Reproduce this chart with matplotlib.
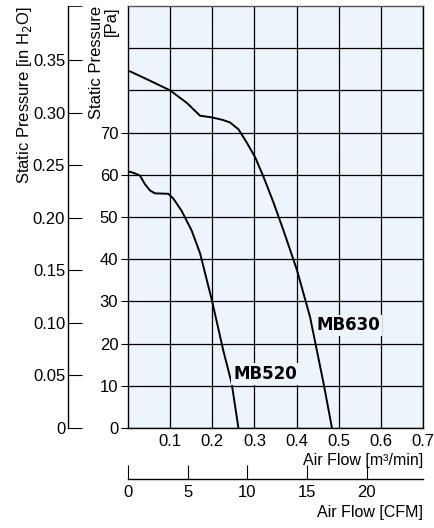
import matplotlib
matplotlib.use("Agg")
import matplotlib.pyplot as plt

# fan curves, air flow [m3/min] vs static pressure [Pa]
mb630_flow = [0.005, 0.05, 0.1, 0.14, 0.171, 0.199, 0.225, 0.242, 0.262, 0.282, 0.302,
              0.322, 0.345, 0.369, 0.385, 0.401, 0.432, 0.464, 0.484]
mb630_pa = [84.5, 82.4, 80.0, 77.0, 74.0, 73.6, 73.0, 72.4, 70.8, 67.6, 64.1,
            59.4, 53.5, 46.8, 42.1, 37.4, 26.3, 10.6, 0.0]
mb520_flow = [0.001, 0.015, 0.0285, 0.04, 0.052, 0.064, 0.096, 0.108, 0.127, 0.151,
              0.171, 0.199, 0.226, 0.246, 0.262]
mb520_pa = [60.8, 60.4, 59.8, 57.8, 56.3, 55.6, 55.5, 54.3, 51.5, 46.8,
            41.4, 30.3, 18.4, 10.6, 0.0]

x_ticks = [0.1, 0.2, 0.3, 0.4, 0.5, 0.6, 0.7]
pa_ticks = [0, 10, 20, 30, 40, 50, 60, 70]
pa_grid = [10, 20, 30, 40, 50, 60, 70, 80, 90]
inh2o_ticks = [0, 0.05, 0.10, 0.15, 0.20, 0.25, 0.30, 0.35]
cfm_ticks = [0, 5, 10, 15, 20]

PA_PER_INH2O = 249.089
CFM_PER_M3MIN = 35.3147

plt.rcParams['font.family'] = ['Liberation Sans', 'DejaVu Sans']
plt.rcParams['font.size'] = 11

fig = plt.figure(figsize=(4.35, 5.28), dpi=100)
ax = fig.add_axes([128 / 435, 100 / 528, 295 / 435, 422 / 528])
bg = '#edf4fc'
ax.set_facecolor(bg)

ax.plot(mb630_flow, mb630_pa, color='black', lw=1.4, zorder=3)
ax.plot(mb520_flow, mb520_pa, color='black', lw=1.4, zorder=3)

ax.set_xlim(0, 0.7)
ax.set_ylim(0, 100)
ax.set_xticks(x_ticks)
ax.set_xticklabels([f'{v:.1f}' for v in x_ticks])
ax.set_yticks(pa_ticks)
ax.set_yticks(pa_grid, minor=True)
ax.set_xticks([0.1, 0.2, 0.3, 0.4, 0.5, 0.6], minor=True)
ax.tick_params(axis='x', which='both', length=0, pad=4, labelsize=12)
ax.tick_params(axis='y', which='major', length=5, direction='out', pad=2, labelsize=12)
ax.tick_params(axis='y', which='minor', length=0)
ax.grid(True, which='both', color='black', lw=0.9, zorder=1)
ax.set_axisbelow(True)
for s in ax.spines.values():
    s.set_linewidth(1.0)
ax.spines['top'].set_color('#555555')

lbl = dict(fontsize=12, fontweight='bold', family='DejaVu Sans', ha='center', va='center',
           zorder=4, bbox=dict(boxstyle='square,pad=0.1', fc=bg, ec='none'))
ax.text(0.5226, 24.3, 'MB630', **lbl)
ax.text(0.325, 12.8, 'MB520', **lbl)

fig.text(104 / 435, 522 / 528, 'Static Pressure\n[Pa]', rotation=90, ha='center', va='top',
         multialignment='right', fontsize=12, linespacing=1.0)
ax.text(1.0, -0.076, 'Air Flow [m³/min]', transform=ax.transAxes, ha='right', va='center',
        fontsize=11.5)

# secondary axis in inch of water
sec_y = ax.secondary_yaxis(-60 / 295, functions=(lambda p: p / PA_PER_INH2O,
                                                  lambda h: h * PA_PER_INH2O))
sec_y.set_yticks(inh2o_ticks)
sec_y.set_yticklabels(['0'] + [f'{v:.2f}' for v in inh2o_ticks[1:]])
sec_y.set_yticks([100 / PA_PER_INH2O], minor=True)
sec_y.tick_params(which='both', direction='in', length=10, pad=2, labelsize=12)
sec_y.spines['left'].set_linewidth(1.0)
sec_y.set_ylabel('Static Pressure [in H$_2$O]', loc='top', labelpad=-1, fontsize=12)

# secondary axis in CFM
sec_x = ax.secondary_xaxis(-51 / 422, functions=(lambda q: q * CFM_PER_M3MIN,
                                                  lambda c: c / CFM_PER_M3MIN))
sec_x.set_xticks(cfm_ticks)
sec_x.tick_params(direction='in', length=10, pad=4, labelsize=12)
sec_x.spines['bottom'].set_linewidth(1.0)
ax.text(1.0, -0.201, 'Air Flow [CFM]', transform=ax.transAxes, ha='right', va='center',
        fontsize=11.5)

fig.savefig('out.png', dpi=100)
